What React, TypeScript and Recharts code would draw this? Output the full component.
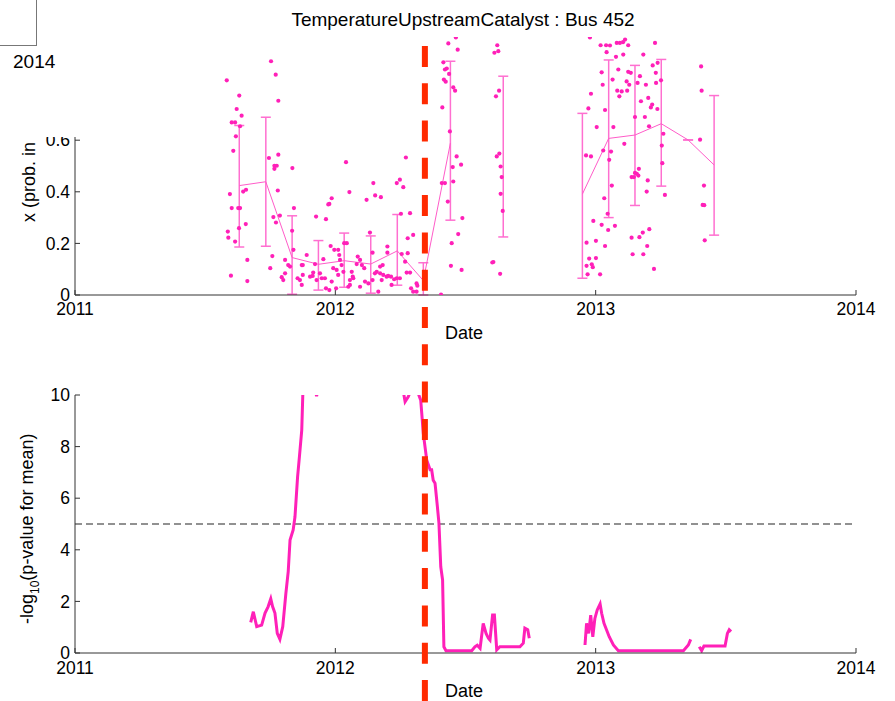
import React from 'react'
import { ComposedChart, Line, Scatter, XAxis, YAxis, ErrorBar, ReferenceLine } from 'recharts'

const FONT = '"Liberation Sans", Arial, Helvetica, sans-serif'
const W = 895
const H = 701
const PINK = '#ff20b8'
const MEAN_PINK = '#ff5cc9'
const BAR_PINK = '#ff6fd0'
const AXIS = '#333'

// axes
const YEAR_TICKS = [2011, 2012, 2013, 2014]
const PROB_TICKS = [0, 0.2, 0.4, 0.6, 0.8, 1]
const PVAL_TICKS = [0, 2, 4, 6, 8, 10]
const CHANGE_POINT = 2012.344
const PVAL_THRESHOLD = 5

// individual samples [date, prob]
const samples2011: [number, number][] = [
  [2011.583, 0.832], [2011.631, 0.773], [2011.621, 0.721], [2011.640, 0.695], [2011.602, 0.669], [2011.615, 0.669],
  [2011.634, 0.654], [2011.618, 0.615], [2011.608, 0.559], [2011.595, 0.391], [2011.646, 0.401], [2011.657, 0.408],
  [2011.602, 0.337], [2011.627, 0.337], [2011.634, 0.337], [2011.656, 0.275], [2011.587, 0.246], [2011.589, 0.222],
  [2011.630, 0.259], [2011.615, 0.207], [2011.662, 0.136], [2011.599, 0.075], [2011.662, 0.054],
  [2011.753, 0.906], [2011.771, 0.854], [2011.781, 0.753], [2011.745, 0.531], [2011.781, 0.544], [2011.766, 0.501],
  [2011.775, 0.501], [2011.766, 0.489], [2011.779, 0.405], [2011.762, 0.302], [2011.787, 0.308], [2011.772, 0.281],
  [2011.758, 0.151], [2011.750, 0.104],
  [2011.835, 0.492], [2011.841, 0.337], [2011.834, 0.249], [2011.839, 0.175], [2011.807, 0.136], [2011.819, 0.116],
  [2011.826, 0.110], [2011.807, 0.084], [2011.794, 0.069], [2011.800, 0.058], [2011.855, 0.065], [2011.864, 0.058],
  [2011.871, 0.116],
  [2011.986, 0.375], [2011.977, 0.353], [2011.973, 0.351], [2011.926, 0.304], [2011.964, 0.294], [2011.982, 0.190],
  [2011.996, 0.175], [2011.890, 0.155], [2011.954, 0.139], [2011.875, 0.116], [2011.922, 0.120], [2011.992, 0.104],
  [2011.915, 0.087], [2011.913, 0.074], [2011.941, 0.084], [2011.875, 0.078], [2011.948, 0.065], [2011.960, 0.065],
  [2011.928, 0.058], [2011.903, 0.071], [2011.986, 0.052], [2011.871, 0.039], [2011.964, 0.026], [2011.977, 0.019],
]

const samples2012: [number, number][] = [
  [2012.041, 0.515], [2012.146, 0.434], [2012.054, 0.399], [2012.153, 0.386], [2012.175, 0.379], [2012.120, 0.369],
  [2012.133, 0.242], [2012.200, 0.188], [2012.011, 0.175], [2012.015, 0.155], [2012.034, 0.201], [2012.044, 0.201],
  [2012.018, 0.136], [2012.086, 0.149], [2012.095, 0.136], [2012.143, 0.164], [2012.200, 0.164], [2012.024, 0.116],
  [2012.082, 0.120], [2012.102, 0.116], [2012.111, 0.104], [2012.172, 0.110], [2012.182, 0.116], [2012.159, 0.090],
  [2012.005, 0.097], [2012.031, 0.090], [2012.063, 0.090], [2012.067, 0.071], [2012.152, 0.084], [2012.172, 0.084],
  [2012.184, 0.078], [2012.011, 0.078], [2012.056, 0.058], [2012.069, 0.065], [2012.114, 0.052], [2012.127, 0.045],
  [2012.143, 0.058], [2012.178, 0.058], [2012.197, 0.071], [2012.095, 0.032], [2012.050, 0.032], [2012.056, 0.039],
  [2012.003, 0.026], [2012.165, 0.013],
  [2012.271, 0.533], [2012.236, 0.434], [2012.248, 0.447], [2012.261, 0.418], [2012.252, 0.315], [2012.287, 0.317],
  [2012.278, 0.220], [2012.299, 0.233], [2012.255, 0.159], [2012.278, 0.162], [2012.268, 0.129], [2012.274, 0.087],
  [2012.287, 0.087], [2012.203, 0.074], [2012.214, 0.071], [2012.226, 0.061], [2012.236, 0.065], [2012.248, 0.065],
  [2012.216, 0.039], [2012.312, 0.045], [2012.315, 0.036], [2012.291, 0.026], [2012.299, 0.013], [2012.312, 0.013],
  [2012.406, 0.002],
  [2012.466, 0.537], [2012.483, 0.505], [2012.451, 0.496], [2012.409, 0.434], [2012.421, 0.434], [2012.453, 0.440],
  [2012.432, 0.362], [2012.488, 0.298], [2012.472, 0.236], [2012.447, 0.201], [2012.444, 0.113], [2012.485, 0.097],
  [2012.463, 0.998], [2012.434, 0.975], [2012.470, 0.951], [2012.415, 0.902], [2012.421, 0.874], [2012.428, 0.878],
  [2012.437, 0.857], [2012.417, 0.835], [2012.424, 0.827], [2012.453, 0.805], [2012.460, 0.792], [2012.411, 0.727],
  [2012.440, 0.634],
  [2012.622, 0.968], [2012.611, 0.939], [2012.626, 0.945], [2012.629, 0.792], [2012.617, 0.770], [2012.630, 0.548],
  [2012.620, 0.537], [2012.635, 0.498], [2012.639, 0.457], [2012.635, 0.392], [2012.643, 0.326], [2012.607, 0.128],
  [2012.603, 0.126], [2012.633, 0.082],
  [2012.978, 0.998], [2012.982, 0.780], [2012.972, 0.723], [2012.963, 0.541], [2012.982, 0.537], [2012.991, 0.287],
  [2012.965, 0.203], [2012.975, 0.141], [2012.985, 0.119], [2012.965, 0.113], [2012.989, 0.108], [2012.969, 0.080],
]

const samples2013: [number, number][] = [
  [2013.019, 0.968], [2013.040, 0.968], [2013.055, 0.967], [2013.081, 0.977], [2013.093, 0.977], [2013.105, 0.980],
  [2013.113, 0.990], [2013.125, 0.968], [2013.228, 0.977], [2013.042, 0.941], [2013.078, 0.923], [2013.106, 0.932],
  [2013.183, 0.932], [2013.219, 0.890], [2013.238, 0.900], [2013.023, 0.863], [2013.087, 0.874], [2013.125, 0.865],
  [2013.135, 0.861], [2013.231, 0.861], [2013.170, 0.848], [2013.065, 0.835], [2013.119, 0.828], [2013.251, 0.832],
  [2013.027, 0.815], [2013.129, 0.815], [2013.161, 0.822], [2013.193, 0.815], [2013.232, 0.822], [2013.405, 0.886],
  [2013.083, 0.792], [2013.100, 0.789], [2013.121, 0.792], [2013.091, 0.770], [2013.174, 0.751], [2013.202, 0.764],
  [2013.217, 0.738], [2013.212, 0.727], [2013.237, 0.721], [2013.407, 0.792], [2013.036, 0.717], [2013.151, 0.690],
  [2013.189, 0.690], [2013.004, 0.651], [2013.068, 0.651], [2013.205, 0.654], [2013.260, 0.625], [2013.110, 0.586],
  [2013.254, 0.579], [2013.401, 0.602], [2013.029, 0.560], [2013.059, 0.556], [2013.052, 0.524], [2013.256, 0.511],
  [2013.166, 0.489], [2013.151, 0.473], [2013.158, 0.470], [2013.164, 0.463], [2013.138, 0.457], [2013.147, 0.457],
  [2013.200, 0.444], [2013.062, 0.424], [2013.416, 0.424], [2013.196, 0.401], [2013.266, 0.388], [2013.033, 0.375],
  [2013.411, 0.349], [2013.417, 0.348], [2013.046, 0.315], [2013.023, 0.272], [2013.048, 0.252], [2013.074, 0.268],
  [2013.181, 0.242], [2013.206, 0.255], [2013.138, 0.222], [2013.168, 0.224], [2013.001, 0.210], [2013.036, 0.190],
  [2013.198, 0.190], [2013.419, 0.212], [2013.001, 0.143], [2013.142, 0.158], [2013.183, 0.158], [2013.224, 0.101],
  [2013.017, 0.080],
]

// binned means with error bar bounds (null = empty bin)
const binDates = [2011.631, 2011.733, 2011.834, 2011.935, 2012.034, 2012.136, 2012.238, 2012.338, 2012.442, 2012.543,
  2012.645, 2012.746, 2012.847, 2012.949, 2013.050, 2013.151, 2013.252, 2013.355, 2013.455]
const binMeans = [0.424, 0.439, 0.145, 0.119, 0.133, 0.120, 0.171, 0.056, 0.589, null,
  0.536, null, null, 0.391, 0.607, 0.620, 0.664, 0.601, 0.504]
const binLower = [0.186, 0.189, 0.003, 0.019, 0.030, 0.007, 0.038, 0.0, 0.290, null,
  0.225, null, null, 0.065, 0.300, 0.347, 0.422, 0.601, 0.232]
const binUpper = [0.657, 0.689, 0.307, 0.211, 0.240, 0.229, 0.312, 0.125, 0.906, null,
  0.848, null, null, 0.704, 0.911, 0.890, 0.913, 0.601, 0.773]

// -log10 p-value trace (null = gap)
const pDates = [
  2011.675, 2011.685, 2011.698, 2011.717, 2011.730, 2011.742, 2011.752, 2011.759, 2011.768, 2011.777, 2011.787,
  2011.798, 2011.810, 2011.819, 2011.826, 2011.838, 2011.845, 2011.855, 2011.862, 2011.871, 2011.875, 2011.883,
  2011.903, 2011.918, 2011.928, 2011.937, 2011.960, 2012.018, 2012.095, 2012.172, 2012.241, 2012.260, 2012.268,
  2012.280, 2012.295, 2012.317, 2012.328, 2012.338, 2012.351, 2012.364, 2012.370, 2012.376, 2012.383, 2012.392,
  2012.398, 2012.405, 2012.412, 2012.417, 2012.425, 2012.524, 2012.536, 2012.545, 2012.556, 2012.568, 2012.579,
  2012.588, 2012.594, 2012.604, 2012.611, 2012.620, 2012.632, 2012.709, 2012.722, 2012.728, 2012.739, 2012.745,
  2012.850,
  2012.959, 2012.965, 2012.973, 2012.981, 2012.989, 2012.997, 2013.006, 2013.017, 2013.023, 2013.032, 2013.042,
  2013.052, 2013.068, 2013.087, 2013.337, 2013.356, 2013.365,
  2013.380,
  2013.398, 2013.407, 2013.416, 2013.497, 2013.506, 2013.513, 2013.520,
]
const pValues: (number | null)[] = [
  1.19, 1.6, 1.02, 1.08, 1.55, 1.8, 2.1, 1.8, 1.55, 0.76, 0.53,
  1.02, 2.31, 3.15, 4.38, 4.77, 5.28, 6.83, 7.6, 8.64, 10.0, 11.5,
  12.5, 10.4, 9.95, 10.4, 12, 14, 15, 13.5, 11, 10.2, 9.74,
  9.93, 10.3, 10.1, 9.8, 8.5, 7.48, 7.1, 7.1, 6.7, 6.58, 5.67,
  5.03, 3.34, 2.83, 0.24, 0.09, 0.09, 0.24, 0.3, 0.18, 1.15, 0.76,
  0.57, 0.5, 1.47, 1.47, 0.12, 0.24, 0.24, 0.38, 0.96, 0.9, 0.57,
  null,
  0.31, 1.15, 0.76, 1.47, 0.63, 1.34, 1.67, 1.9, 1.54, 1.15, 0.89,
  0.63, 0.31, 0.09, 0.09, 0.31, 0.53,
  null,
  0.24, 0.09, 0.27, 0.27, 0.76, 0.9, 0.83,
]

const sampleData = [...samples2011, ...samples2012, ...samples2013].map(([x, y]) => ({ x, y }))
const binData = binDates.map((x, i) => {
  const m = binMeans[i]
  if (m == null) return { x, mean: null }
  return { x, mean: m, err: [m - (binLower[i] as number), (binUpper[i] as number) - m] }
})
const pData = pDates.map((x, i) => ({ x, p: pValues[i] }))

const tickStyle = { fontSize: 17.5, fill: '#000', fontFamily: FONT }

const SampleDot = (props: any) => <circle cx={props.cx} cy={props.cy} r={2.1} fill={PINK} />

function ProbPanel() {
  return (
    <ComposedChart width={W} height={330} margin={{ top: 37, right: 39, bottom: 5, left: 35 }}>
      <XAxis dataKey="x" type="number" domain={[2011, 2014]} ticks={YEAR_TICKS} interval={0} allowDataOverflow
        height={30} stroke={AXIS} tickSize={-5} tickMargin={13} tick={tickStyle} />
      <XAxis xAxisId="top" orientation="top" type="number" domain={[2011, 2014]} ticks={YEAR_TICKS} interval={0}
        allowDataOverflow height={0} stroke={AXIS} tickSize={-5} tick={false} />
      <YAxis dataKey="y" type="number" domain={[0, 1]} ticks={PROB_TICKS} interval={0} allowDataOverflow
        width={40} stroke={AXIS} tickSize={-5} tickMargin={10} tick={tickStyle} tickFormatter={(v) => String(v)} />
      <YAxis yAxisId="right" orientation="right" type="number" domain={[0, 1]} ticks={PROB_TICKS} interval={0}
        allowDataOverflow width={0} stroke={AXIS} tickSize={-5} tick={false} />
      <Line data={binData} dataKey="mean" stroke={MEAN_PINK} strokeWidth={1} dot={false} activeDot={false}
        isAnimationActive={false}>
        <ErrorBar dataKey="err" direction="y" width={5} stroke={BAR_PINK} strokeWidth={1.5} isAnimationActive={false} />
      </Line>
      <Scatter data={sampleData} shape={SampleDot} isAnimationActive={false} />
    </ComposedChart>
  )
}

function PValuePanel() {
  return (
    <ComposedChart width={W} height={351} margin={{ top: 45, right: 39, bottom: 18, left: 35 }}>
      <XAxis dataKey="x" type="number" domain={[2011, 2014]} ticks={YEAR_TICKS} interval={0} allowDataOverflow
        height={30} stroke={AXIS} tickSize={-5} tickMargin={14} tick={tickStyle} />
      <XAxis xAxisId="top" orientation="top" type="number" domain={[2011, 2014]} ticks={YEAR_TICKS} interval={0}
        allowDataOverflow height={0} stroke={AXIS} tickSize={-5} tick={false} />
      <YAxis type="number" domain={[0, 10]} ticks={PVAL_TICKS} interval={0} allowDataOverflow
        width={40} stroke={AXIS} tickSize={-5} tickMargin={10} tick={tickStyle} />
      <YAxis yAxisId="right" orientation="right" type="number" domain={[0, 10]} ticks={PVAL_TICKS} interval={0}
        allowDataOverflow width={0} stroke={AXIS} tickSize={-5} tick={false} />
      <ReferenceLine y={PVAL_THRESHOLD} stroke="#6e6e6e" strokeWidth={1.3} strokeDasharray="7 4" />
      <Line data={pData} dataKey="p" stroke={PINK} strokeWidth={3} dot={false} activeDot={false}
        isAnimationActive={false} />
    </ComposedChart>
  )
}

// the change-point marker runs through both panels, so it gets its own full-height layer
function ChangePointOverlay() {
  return (
    <ComposedChart width={W} height={H} data={binData} margin={{ top: 45, right: 39, bottom: 0, left: 75 }}>
      <XAxis dataKey="x" type="number" domain={[2011, 2014]} allowDataOverflow hide />
      <YAxis type="number" domain={[0, 1]} allowDataOverflow hide />
      <Line dataKey="mean" stroke="none" dot={false} activeDot={false} isAnimationActive={false} />
      <ReferenceLine x={CHANGE_POINT} stroke="#ff2a00" strokeWidth={6} strokeDasharray="21 16.3" />
    </ComposedChart>
  )
}

const abs = (style: React.CSSProperties): React.CSSProperties => ({ position: 'absolute', ...style })

export default function App() {
  return (
    <div style={{ position: 'absolute', left: 0, top: 0, width: W, height: H, background: '#fff', fontFamily: FONT, color: '#000', overflow: 'hidden' }}>
      <div style={abs({ left: 0, top: 0 })}><ProbPanel /></div>
      <div style={abs({ left: 0, top: 350 })}><PValuePanel /></div>

      {/* y labels */}
      <div style={abs({ left: 20, top: 222, fontSize: 18, lineHeight: '18px', whiteSpace: 'nowrap', transform: 'rotate(-90deg)', transformOrigin: '0 0' })}>
        x (prob. in window)
      </div>
      <div style={abs({ left: 18, top: 624, fontSize: 18, lineHeight: '18px', whiteSpace: 'nowrap', transform: 'rotate(-90deg)', transformOrigin: '0 0' })}>
        -log<span style={{ fontSize: 12, position: 'relative', top: 6 }}>10</span>(p-value for mean)
      </div>

      {/* stray axes box in the corner */}
      <div style={abs({ left: 0, top: 0, width: 141, height: 137, background: '#fff' })} />
      <div style={abs({ left: 0, top: 0, width: 37, height: 46, boxSizing: 'border-box', borderRight: '1px solid #777', borderBottom: '1px solid #777' })} />
      <div style={abs({ left: 13, top: 52, fontSize: 19, lineHeight: '19px' })}>2014</div>

      <div style={abs({ left: 463, top: 10, fontSize: 19, lineHeight: '19px', whiteSpace: 'nowrap', transform: 'translateX(-50%)' })}>
        TemperatureUpstreamCatalyst : Bus 452
      </div>
      <div style={abs({ left: 464, top: 324, fontSize: 18, lineHeight: '18px', transform: 'translateX(-50%)' })}>Date</div>
      <div style={abs({ left: 464, top: 682, fontSize: 18, lineHeight: '18px', transform: 'translateX(-50%)' })}>Date</div>

      <div style={abs({ left: 0, top: 0, pointerEvents: 'none' })}><ChangePointOverlay /></div>
    </div>
  )
}
